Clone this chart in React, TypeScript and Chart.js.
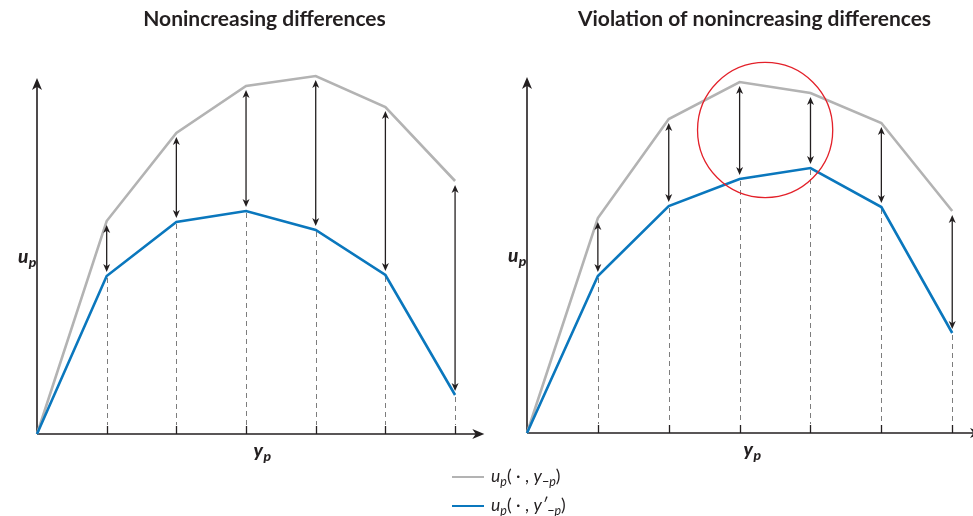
import React, { useEffect, useRef } from "react";
import { Chart, registerables } from "chart.js";

Chart.register(...registerables);

// ---- data ----
const steps = [0, 1, 2, 3, 4, 5, 6];
const leftBase = [0, 53.25, 75.25, 87, 89.5, 81.75, 63.25];
const leftShifted = [0, 39.5, 53, 55.75, 51, 39.75, 9.75];
const rightBase = [0, 53.75, 78.5, 87.75, 85, 77.5, 55.5];
const rightShifted = [0, 39.25, 56.75, 63.5, 66.25, 56.5, 25];
const panelTitles = ["Nonincreasing differences", "Violation of nonincreasing differences"];
const seriesNames = ["u_p(·, y_−p)", "u_p(·, y′_−p)"];

// ---- styles ----
const INK = "#231f20";
const GRAY = "#b3b3b3";
const BLUE = "#0a77bd";
const DASH = "#7d7d7d";
const RED = "#e3212a";
const FONT = "Lato, 'Open Sans', sans-serif";
const AXIS_TOP = 89; // y value of the up-arrow tip
const AXIS_RIGHT = 6.42; // x value of the right-arrow tip

function head(ctx: CanvasRenderingContext2D, tx: number, ty: number, dx: number, dy: number, len: number, half: number) {
  const bx = tx - dx * len;
  const by = ty - dy * len;
  const nx = -dy;
  const ny = dx;
  const notch = len * 0.72;
  ctx.beginPath();
  ctx.moveTo(tx, ty);
  ctx.lineTo(bx + nx * half, by + ny * half);
  ctx.lineTo(tx - dx * notch, ty - dy * notch);
  ctx.lineTo(bx - nx * half, by - ny * half);
  ctx.closePath();
  ctx.fill();
}

function subLabel(ctx: CanvasRenderingContext2D, main: string, sub: string, x: number, y: number, size: number) {
  ctx.save();
  ctx.fillStyle = INK;
  ctx.textBaseline = "alphabetic";
  ctx.textAlign = "left";
  ctx.font = `italic 900 ${size}px ${FONT}`;
  ctx.fillText(main, x, y);
  const w = ctx.measureText(main).width;
  ctx.font = `italic 900 ${Math.round(size * 0.72)}px ${FONT}`;
  ctx.fillText(sub, x + w + 0.5, y + 3.5);
  ctx.restore();
}

const panelDecor = {
  id: "panelDecor",
  beforeDatasetsDraw(chart: any) {
    const ctx: CanvasRenderingContext2D = chart.ctx;
    const xs = chart.scales.x;
    const ys = chart.scales.y;
    const x0 = xs.getPixelForValue(0);
    const y0 = ys.getPixelForValue(0);
    const lower = chart.data.datasets[1].data as { x: number; y: number }[];
    ctx.save();
    for (let i = 1; i < lower.length; i++) {
      const px = Math.round(xs.getPixelForValue(lower[i].x)) + 0.5;
      const py = ys.getPixelForValue(lower[i].y);
      ctx.strokeStyle = DASH;
      ctx.lineWidth = 1;
      ctx.setLineDash([5, 4]);
      ctx.beginPath();
      ctx.moveTo(px, py + 2);
      ctx.lineTo(px, y0 - 9);
      ctx.stroke();
      ctx.setLineDash([]);
      ctx.strokeStyle = INK;
      ctx.lineWidth = 1.3;
      ctx.beginPath();
      ctx.moveTo(px, y0 - 8);
      ctx.lineTo(px, y0);
      ctx.stroke();
    }
    const yTip = ys.getPixelForValue(AXIS_TOP);
    const xTip = xs.getPixelForValue(AXIS_RIGHT);
    ctx.strokeStyle = INK;
    ctx.fillStyle = INK;
    ctx.lineWidth = 1.6;
    ctx.beginPath();
    ctx.moveTo(x0, y0);
    ctx.lineTo(x0, yTip + 8);
    ctx.moveTo(x0, y0);
    ctx.lineTo(xTip - 8, y0);
    ctx.stroke();
    head(ctx, x0, yTip, 0, -1, 12, 5);
    head(ctx, xTip, y0, 1, 0, 12, 5);
    ctx.restore();
  },
  afterDatasetsDraw(chart: any, _args: any, opts: any) {
    const ctx: CanvasRenderingContext2D = chart.ctx;
    const xs = chart.scales.x;
    const ys = chart.scales.y;
    const upper = chart.data.datasets[0].data as { x: number; y: number }[];
    const lower = chart.data.datasets[1].data as { x: number; y: number }[];
    ctx.save();
    ctx.strokeStyle = INK;
    ctx.fillStyle = INK;
    ctx.lineWidth = 1.3;
    for (let i = 1; i < upper.length; i++) {
      const px = xs.getPixelForValue(upper[i].x);
      const top = ys.getPixelForValue(upper[i].y) + 4;
      const bot = ys.getPixelForValue(lower[i].y) - 4;
      ctx.beginPath();
      ctx.moveTo(px, top + 5);
      ctx.lineTo(px, bot - 5);
      ctx.stroke();
      head(ctx, px, top, 0, -1, 8, 3.5);
      head(ctx, px, bot, 0, 1, 8, 3.5);
    }
    if (opts && opts.circle) {
      const c = opts.circle;
      const cx = xs.getPixelForValue(c.x);
      const cy = ys.getPixelForValue(c.y);
      const r = Math.abs(ys.getPixelForValue(0) - ys.getPixelForValue(c.r));
      ctx.strokeStyle = RED;
      ctx.lineWidth = 1.3;
      ctx.beginPath();
      ctx.arc(cx, cy, r, 0, Math.PI * 2);
      ctx.stroke();
    }
    const x0 = xs.getPixelForValue(0);
    const y0 = ys.getPixelForValue(0);
    const area = chart.chartArea;
    subLabel(ctx, "u", "p", x0 - 19, y0 - 171, 19);
    subLabel(ctx, "y", "p", (area.left + area.right) / 2 - 11, y0 + 23, 19);
    ctx.restore();
  },
};

function makeConfig(title: string, upper: number[], lower: number[], xMax: number, padBottom: number, titlePadBottom: number, circle: any) {
  return {
    type: "line" as const,
    data: {
      datasets: [
        {
          label: seriesNames[0],
          data: steps.map((s, i) => ({ x: s, y: upper[i] })),
          borderColor: GRAY,
          borderWidth: 2.6,
          pointRadius: 0,
          tension: 0,
          clip: false as any,
          order: 2,
        },
        {
          label: seriesNames[1],
          data: steps.map((s, i) => ({ x: s, y: lower[i] })),
          borderColor: BLUE,
          borderWidth: 2.6,
          pointRadius: 0,
          tension: 0,
          clip: false as any,
          order: 1,
        },
      ],
    },
    options: {
      animation: false as const,
      responsive: false,
      events: [] as any,
      layout: { padding: { left: 37, right: 8, top: 0, bottom: padBottom } },
      scales: {
        x: { type: "linear" as const, min: 0, max: xMax, display: false },
        y: { type: "linear" as const, min: 0, max: 100, display: false },
      },
      plugins: {
        legend: { display: false },
        tooltip: { enabled: false },
        title: {
          display: true,
          text: title,
          color: INK,
          font: { family: FONT, size: 21, weight: "bold" as const, lineHeight: 1.1 },
          padding: { top: 8, bottom: titlePadBottom },
        },
        panelDecor: { circle },
      } as any,
    },
    plugins: [panelDecor],
  };
}

function LegendRow({ prime, color, top }: { prime: boolean; color: string; top: number }) {
  return (
    <div
      style={{
        position: "absolute",
        left: 452,
        top: top - 13,
        height: 24,
        display: "flex",
        alignItems: "center",
        fontFamily: FONT,
        fontSize: 17.5,
        color: INK,
        whiteSpace: "nowrap",
      }}
    >
      <span style={{ display: "inline-block", width: 32, height: 2.6, background: color, marginRight: 7 }} />
      <span>
        <i>u</i>
        <sub style={{ fontSize: 12.5, fontStyle: "italic", verticalAlign: "-0.3em" }}>p</sub>
        {"( · , "}
        <i>{prime ? "y\u2032" : "y"}</i>
        <sub style={{ fontSize: 12.5, fontStyle: "italic", verticalAlign: "-0.3em" }}>−p</sub>
        {")"}
      </span>
    </div>
  );
}

export default function App() {
  const leftRef = useRef<HTMLCanvasElement | null>(null);
  const rightRef = useRef<HTMLCanvasElement | null>(null);

  useEffect(() => {
    const charts: Chart[] = [];
    if (leftRef.current) {
      charts.push(new Chart(leftRef.current, makeConfig(panelTitles[0], leftBase, leftShifted, 6.53, 82, 2.9, null) as any));
    }
    if (rightRef.current) {
      charts.push(
        new Chart(
          rightRef.current,
          makeConfig(panelTitles[1], rightBase, rightShifted, 6.42, 83, 1.9, { x: 3.36, y: 75.75, r: 16.9 }) as any
        )
      );
    }
    return () => charts.forEach((c) => c.destroy());
  }, []);

  return (
    <div style={{ position: "absolute", left: 0, top: 0, width: 973, height: 516, overflow: "hidden", background: "#fff" }}>
      <canvas ref={leftRef} width={500} height={516} style={{ position: "absolute", left: 0, top: 0, width: 500, height: 516, display: "block" }} />
      <canvas ref={rightRef} width={500} height={516} style={{ position: "absolute", left: 490, top: 0, width: 500, height: 516, display: "block" }} />
      <LegendRow prime={false} color={GRAY} top={478} />
      <LegendRow prime={true} color={BLUE} top={507} />
    </div>
  );
}
